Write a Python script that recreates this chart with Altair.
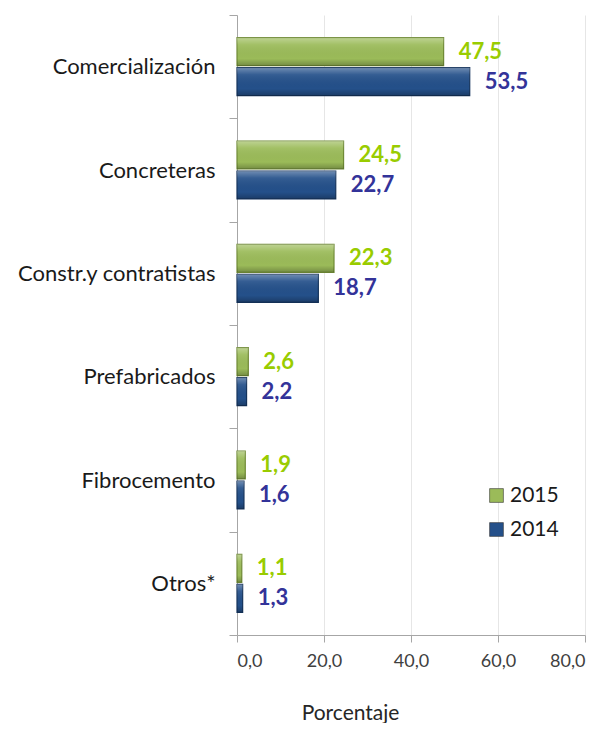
import altair as alt
import pandas as pd

categories = ["Comercialización", "Concreteras", "Constr.y contratistas",
              "Prefabricados", "Fibrocemento", "Otros*"]
years = ["2015", "2014"]
values_2015 = [47.5, 24.5, 22.3, 2.6, 1.9, 1.1]
values_2014 = [53.5, 22.7, 18.7, 2.2, 1.6, 1.3]
x_ticks = [0, 20, 40, 60, 80]

rows = []
for c, v15, v14 in zip(categories, values_2015, values_2014):
    rows.append({"cat": c, "year": "2015", "val": v15})
    rows.append({"cat": c, "year": "2014", "val": v14})
df = pd.DataFrame(rows)
df["label"] = df["val"].map(lambda v: f"{v:.1f}".replace(".", ","))

FONT = "Lato"
green_fill, blue_fill = "#9bbb59", "#24508a"
green_text, blue_text = "#99cc00", "#333399"

y_enc = alt.Y("cat:N", sort=categories, title=None,
              scale=alt.Scale(paddingInner=0, paddingOuter=0),
              axis=alt.Axis(tickBand="extent", labelFontSize=22, labelColor="#1a1a1a",
                            labelFont=FONT, labelPadding=14, tickSize=8, labelLimit=300,
                            tickColor="#a6a6a6", domainColor="#a6a6a6",
                            grid=False))
yoff = alt.YOffset("year:N", sort=years,
                   scale=alt.Scale(paddingInner=0.067, paddingOuter=0.756))
x_enc = alt.X("val:Q", scale=alt.Scale(domain=[0, 80]), title="Porcentaje",
              axis=alt.Axis(values=x_ticks,
                            labelExpr="replace(format(datum.value, '.1f'), '.', ',')",
                            labelFontSize=18, labelColor="#404040", labelFont=FONT,
                            labelPadding=10, tickSize=7, tickColor="#a6a6a6",
                            domainColor="#a6a6a6", gridColor="#e6e6e6",
                            titleFont=FONT, titleFontSize=21, titleFontWeight="normal",
                            titleColor="#262626", titleX=113, titleY=67,
                            titleAnchor="start", titleAlign="center"))

base = alt.Chart(df)

bars = base.mark_bar(strokeWidth=1.2).encode(
    y=y_enc, yOffset=yoff, x=x_enc,
    color=alt.Color("year:N", sort=years,
                    scale=alt.Scale(domain=years, range=[green_fill, blue_fill]),
                    legend=alt.Legend(title=None, orient="none", legendX=249, legendY=470,
                                      symbolType="square", symbolSize=190,
                                      symbolStrokeColor="#333", symbolStrokeWidth=0.6,
                                      labelFontSize=21, labelFont=FONT, labelColor="#1a1a1a",
                                      rowPadding=12, labelOffset=3)),
    stroke=alt.Stroke("year:N", sort=years,
                      scale=alt.Scale(domain=years, range=["#6f8a35", "#14335c"]),
                      legend=None),
)

shade = base.mark_bar(
    fill=alt.Gradient(gradient="linear", x1=0, y1=0, x2=0, y2=1,
                      stops=[alt.GradientStop(offset=0, color="rgba(255,255,255,0.35)"),
                             alt.GradientStop(offset=0.25, color="rgba(255,255,255,0.08)"),
                             alt.GradientStop(offset=0.75, color="rgba(0,0,0,0.0)"),
                             alt.GradientStop(offset=1, color="rgba(0,0,0,0.25)")])
).encode(y=y_enc, yOffset=yoff, x=x_enc)

text = base.mark_text(align="left", baseline="middle", dx=15, fontSize=22,
                      fontWeight="bold", font=FONT).encode(
    y=y_enc, yOffset=yoff, x=x_enc, text="label:N",
    color=alt.Color("year:N", sort=years,
                    scale=alt.Scale(domain=years, range=[green_text, blue_text]),
                    legend=None),
)

chart = alt.layer(bars, shade, text).resolve_scale(color="independent").properties(
    width=348, height=620,
    autosize=alt.AutoSizeParams(type="none"),
    padding={"left": 229, "top": 7, "right": 15, "bottom": 88},
).configure_view(stroke=None)

chart.save("out.html", embed_options={"renderer": "svg", "actions": False})
